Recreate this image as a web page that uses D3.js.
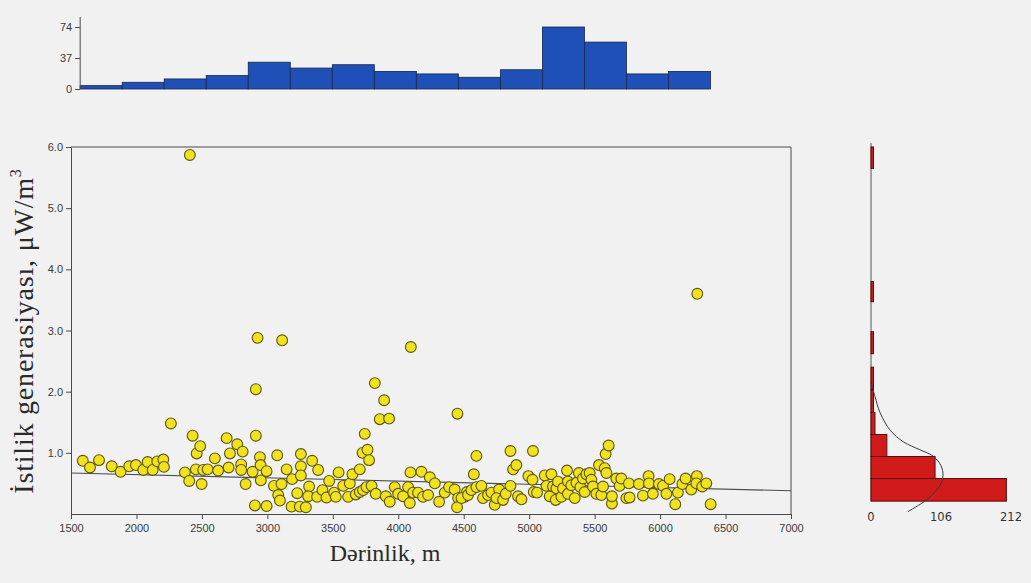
<!DOCTYPE html>
<html>
<head>
<meta charset="utf-8">
<script src="https://cdn.jsdelivr.net/npm/d3@7"></script>
<style>
  html, body { margin: 0; padding: 0; background: #f1f1f1; }
  svg { display: block; }
</style>
</head>
<body>
<svg id="chart" width="1031" height="583"></svg>
<script>
// ---------------- DATA ----------------
const depth = [
  1590,1645,1714,1811,1879,1945,1996,2052,2086,2124,
  2159,2205,2210,2263,2370,2403,2429,2460,2487,2454,
  2498,2510,2544,2599,2624,2689,2714,2704,2770,2811,
  2800,2800,2834,2887,2912,2912,2943,2948,2950,2994,
  2905,2994,3050,3075,3083,3096,3108,3147,3185,3189,
  3228,3248,3256,3256,3256,3294,3319,3312,3342,3380,
  3388,3421,3452,3472,3510,3523,3544,3579,3617,3630,
  3650,3676,3706,3706,3727,3744,3765,3777,3731,3757,
  3796,3828,3821,3892,3859,3930,3905,3935,3973,3999,
  4037,4075,4088,4093,4113,4151,4177,4189,4228,4241,
  4279,4312,4355,4388,4431,4452,4457,4449,4508,4525,
  4483,4533,4577,4597,4559,4597,4635,4647,4686,4712,
  4737,4770,4750,4800,4821,4857,4857,4877,4902,4915,
  4941,4994,5025,5029,5035,5060,5119,5132,5157,5170,
  5182,5203,5208,5220,5246,5258,5289,5296,5296,5322,
  5348,5361,5380,5391,5411,5424,5437,5462,5475,5487,
  5513,5533,5551,5564,5577,5584,5607,5590,5632,5632,
  5666,5691,5704,5742,5762,5767,5838,5869,5912,5915,
  5945,5991,6022,6048,6073,6116,6136,6170,6195,6238,
  6281,6277,6322,6353,6386,6284,2408,2925,3113,4096
];
const heatGen = [
  0.87,0.76,0.88,0.78,0.69,0.78,0.80,0.72,0.85,0.72,
  0.86,0.89,0.77,1.48,0.68,0.54,1.28,0.99,1.11,0.73,
  0.49,0.72,0.73,0.91,0.71,1.24,0.99,0.76,1.14,1.02,
  0.81,0.72,0.49,0.69,2.04,1.28,0.93,0.80,0.55,0.70,
  0.14,0.13,0.46,0.96,0.31,0.22,0.49,0.73,0.12,0.57,
  0.34,0.12,0.98,0.78,0.63,0.11,0.45,0.29,0.87,0.28,
  0.72,0.39,0.27,0.54,0.35,0.28,0.68,0.46,0.28,0.50,
  0.65,0.32,0.73,0.36,1.00,1.31,1.05,0.88,0.39,0.44,
  0.46,0.33,2.14,1.86,1.55,1.56,0.29,0.20,0.44,0.33,
  0.29,0.44,0.18,0.68,0.35,0.35,0.69,0.28,0.31,0.60,
  0.50,0.20,0.35,0.44,0.40,1.64,0.26,0.11,0.28,0.36,
  0.26,0.31,0.65,0.95,0.39,0.44,0.46,0.26,0.31,0.35,
  0.15,0.40,0.26,0.23,0.33,0.46,1.03,0.73,0.80,0.29,
  0.24,0.62,0.56,1.03,0.36,0.35,0.63,0.46,0.29,0.65,
  0.45,0.23,0.42,0.53,0.28,0.42,0.71,0.53,0.33,0.47,
  0.26,0.51,0.67,0.44,0.58,0.36,0.65,0.67,0.56,0.45,
  0.33,0.80,0.31,0.45,0.75,0.98,1.12,0.67,0.17,0.29,
  0.58,0.46,0.58,0.26,0.50,0.27,0.49,0.30,0.62,0.50,
  0.33,0.49,0.46,0.33,0.57,0.16,0.35,0.49,0.58,0.40,
  0.62,0.50,0.45,0.50,0.16,3.60,5.87,2.88,2.84,2.73
];

// trend line (depth, value)
const trendDepth = [1500, 7000];
const trendHeat = [0.67, 0.38];

// axis ticks
const xTicks = [1500,2000,2500,3000,3500,4000,4500,5000,5500,6000,6500,7000];
const yTicks = [1.0,2.0,3.0,4.0,5.0,6.0];

// top (depth) histogram
const topBinEdges = [1570,1891,2212,2533,2854,3175,3496,3817,4138,4459,4780,5101,5422,5743,6064,6385];
const topCounts = [4,8,12,16,32,25,29,21,18,14,23,74,56,18,21];
const topTicks = [0,37,74];

// right (heat generation) histogram
const rightBinLo = [0.21,0.58,0.94,1.30,1.66,2.03,2.62,3.47,5.65];
const rightBinHi = [0.58,0.94,1.30,1.66,2.03,2.40,2.98,3.80,6.00];
const rightCounts = [205,97,24,6,3,1,3,1,1];
const rightTicks = [0,106,212];

// fitted curve on right histogram
const curveHeat  = [2.16,1.92,1.65,1.37,1.18,1.05,0.96,0.83,0.67,0.53,0.39,0.23,0.04];
const curveCount = [0,6,14,29,49,74,92,104,109,107,99,84,56];

// ---------------- DRAW ----------------
const svg = d3.select("#chart");
const axisColor = "#4a4a4a";
const tickFont = "'Liberation Sans', Arial, sans-serif";

const x = d3.scaleLinear().domain([1500, 7000]).range([71, 791]);
const y = d3.scaleLinear().domain([0, 6]).range([514, 147]);

// frame (top and right)
svg.append("line").attr("x1", x(1500)).attr("x2", x(7000)).attr("y1", y(6)).attr("y2", y(6))
  .attr("stroke", axisColor).attr("stroke-width", 1);
svg.append("line").attr("x1", x(7000)).attr("x2", x(7000)).attr("y1", y(6)).attr("y2", y(0))
  .attr("stroke", axisColor).attr("stroke-width", 1);

// x axis
const gx = svg.append("g").attr("transform", `translate(0,${y(0)})`)
  .call(d3.axisBottom(x).tickValues(xTicks).tickFormat(d3.format("d")).tickSize(5).tickSizeOuter(0));
gx.select(".domain").attr("stroke", axisColor);
gx.selectAll(".tick line").attr("stroke", axisColor);
gx.selectAll("text").attr("fill", "#3a3a3a").attr("font-family", tickFont).attr("font-size", 11).attr("dy", "0.95em");

// y axis
const gy = svg.append("g").attr("transform", `translate(${x(1500)},0)`)
  .call(d3.axisLeft(y).tickValues(yTicks).tickFormat(d3.format(".1f")).tickSize(5).tickSizeOuter(0));
gy.select(".domain").attr("stroke", axisColor);
gy.selectAll(".tick line").attr("stroke", axisColor);
gy.selectAll("text").attr("fill", "#3a3a3a").attr("font-family", tickFont).attr("font-size", 11);

// trend line
const line = d3.line().x(d => x(d[0])).y(d => y(d[1]));
svg.append("path").datum(trendDepth.map((d, i) => [d, trendHeat[i]]))
  .attr("d", line).attr("fill", "none").attr("stroke", "#4d4d4d").attr("stroke-width", 1.1);

// scatter points
const n = Math.min(depth.length, heatGen.length);
svg.append("g").selectAll("circle").data(d3.range(n)).join("circle")
  .attr("cx", i => x(depth[i])).attr("cy", i => y(heatGen[i])).attr("r", 5.4)
  .attr("fill", "#f0e21c").attr("stroke", "#5e5410").attr("stroke-width", 1.1);

// axis titles
svg.append("text").attr("x", 385).attr("y", 561).attr("text-anchor", "middle")
  .attr("font-family", "'Liberation Serif', 'Times New Roman', serif").attr("font-size", 24).attr("fill", "#2a2a2a")
  .text("Dərinlik, m");

const yt = svg.append("text").attr("transform", "translate(33,331) rotate(-90)").attr("text-anchor", "middle")
  .attr("font-family", "'Liberation Serif', 'Times New Roman', serif").attr("font-size", 28)
  .attr("letter-spacing", 0.8).attr("fill", "#2a2a2a");
yt.append("tspan").text("İstilik generasiyası, μW/m");
yt.append("tspan").attr("font-size", 16).attr("dy", -12).text("3");

// ---------------- TOP HISTOGRAM ----------------
const yTop = d3.scaleLinear().domain([0, 74]).range([89, 27]);
svg.append("g").selectAll("rect").data(topCounts).join("rect")
  .attr("x", (d, i) => x(topBinEdges[i]))
  .attr("width", (d, i) => x(topBinEdges[i + 1]) - x(topBinEdges[i]))
  .attr("y", d => yTop(d)).attr("height", d => yTop(0) - yTop(d))
  .attr("fill", "#1f50b8").attr("stroke", "#17264d").attr("stroke-width", 0.8);
const gTop = svg.append("g").attr("transform", `translate(${x(topBinEdges[0])},0)`)
  .call(d3.axisLeft(yTop).tickValues(topTicks).tickSize(5).tickSizeOuter(0));
gTop.select(".domain").attr("stroke", axisColor).attr("d", `M0,${yTop(0)}V17`);
gTop.selectAll(".tick line").attr("stroke", axisColor);
gTop.selectAll("text").attr("fill", "#3a3a3a").attr("font-family", tickFont).attr("font-size", 11);

// ---------------- RIGHT HISTOGRAM ----------------
const xR = d3.scaleLinear().domain([0, 212]).range([871, 1011]);
svg.append("line").attr("x1", xR(0)).attr("x2", xR(0)).attr("y1", 143).attr("y2", y(rightBinLo[0]))
  .attr("stroke", "#555").attr("stroke-width", 1);
svg.append("g").selectAll("rect").data(rightCounts).join("rect")
  .attr("x", xR(0))
  .attr("y", (d, i) => y(rightBinHi[i]))
  .attr("height", (d, i) => y(rightBinLo[i]) - y(rightBinHi[i]))
  .attr("width", d => Math.max(xR(d) - xR(0), 2.5))
  .attr("fill", "#d11a1a").attr("stroke", "#5a0d0d").attr("stroke-width", 1);
const curve = d3.line().x(d => xR(d[1])).y(d => y(d[0])).curve(d3.curveCatmullRom);
svg.append("path").datum(curveHeat.map((d, i) => [d, curveCount[i]]))
  .attr("d", curve).attr("fill", "none").attr("stroke", "#3a3a3a").attr("stroke-width", 1);
svg.append("g").selectAll("text").data(rightTicks).join("text")
  .attr("x", d => xR(d)).attr("y", 521).attr("text-anchor", "middle")
  .attr("font-family", "'DejaVu Sans', sans-serif").attr("font-size", 11.5).attr("fill", "#333")
  .text(d => d);
</script>
</body>
</html>
